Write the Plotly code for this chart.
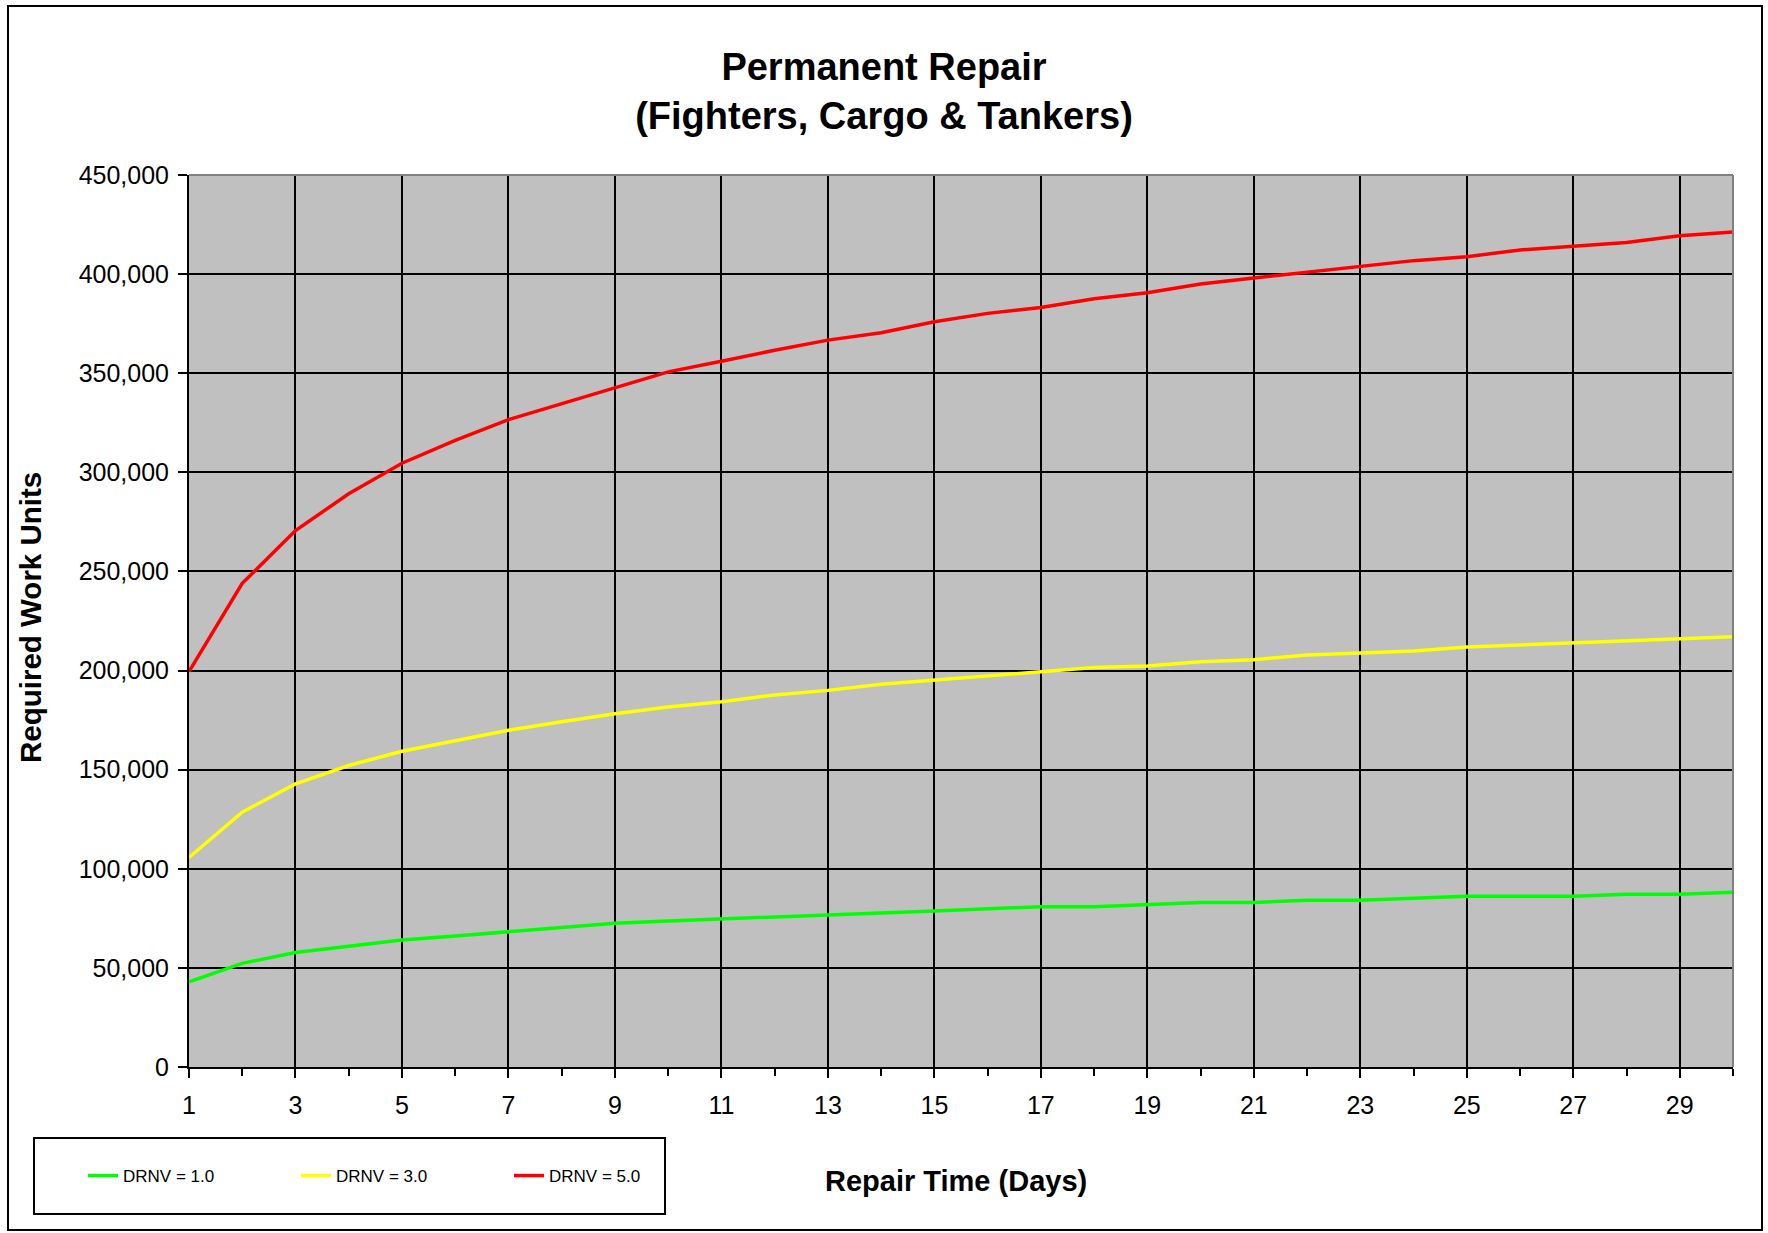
import plotly.graph_objects as go

# Repair time in days
days = list(range(1, 31))

# Required work units for each damage level
drnv_1 = [43000, 52300, 57800, 61000, 64100, 66100, 68300, 70300, 72500, 73700,
          74600, 75700, 76700, 77700, 78700, 79800, 80900, 80900, 81900, 83000,
          83000, 84100, 84100, 85100, 86100, 86100, 86100, 87100, 87100, 88200]
drnv_3 = [105700, 128600, 142800, 152100, 159300, 164400, 169900, 174200, 178200, 181600,
          184300, 187700, 190000, 193100, 195200, 197300, 199300, 201500, 202300, 204500,
          205500, 207900, 208900, 209900, 211900, 212900, 213900, 215300, 216100, 217100]
drnv_5 = [199500, 244000, 270600, 289200, 304600, 316100, 326600, 334700, 342400, 350700,
          356000, 361600, 366700, 370400, 376000, 380200, 383200, 387600, 390600, 395000,
          398000, 400800, 403800, 406800, 408800, 412200, 414100, 415900, 419300, 421300]

series_names = ["DRNV = 1.0", "DRNV = 3.0", "DRNV = 5.0"]
series_colors = ["#00FF00", "#FFFF00", "#FF0000"]

W, H = 1768, 1233
L, R, T, B = 189, 1733, 175, 1067  # plot area in pixels


def px_x(x):
    return (x - L) / (R - L)


def px_y(y):
    return (B - y) / (B - T)


FONT = "Liberation Sans, Arial, sans-serif"

fig = go.Figure()
for name, vals, col in zip(series_names, [drnv_1, drnv_3, drnv_5], series_colors):
    fig.add_trace(go.Scatter(x=days, y=vals, mode="lines", name=name,
                             line=dict(color=col, width=3.5)))

fig.update_layout(
    width=W, height=H,
    margin=dict(l=L, r=W - R, t=T, b=H - B),
    paper_bgcolor="white",
    plot_bgcolor="#C0C0C0",
    font=dict(family=FONT, color="black"),
    title=dict(text="<b>Permanent Repair<br>(Fighters, Cargo & Tankers)</b>",
               x=0.5, xref="container", xanchor="center",
               y=1 - 80 / H, yref="container", yanchor="middle",
               font=dict(size=38, family=FONT, color="black")),
    showlegend=True,
    legend=dict(orientation="h", x=px_x(83), xanchor="left",
                y=px_y(1176), yanchor="middle",
                font=dict(size=17, family=FONT, color="black"),
                bgcolor="rgba(0,0,0,0)", borderwidth=0,
                entrywidth=168, entrywidthmode="pixels", itemwidth=30),
)

fig.update_xaxes(
    range=[1, 30], tick0=1, dtick=2,
    showgrid=True, gridcolor="black", gridwidth=2,
    showline=True, linecolor="black", linewidth=2,
    ticks="outside", ticklen=9, tickwidth=2, tickcolor="black",
    ticklabelstandoff=6,
    tickfont=dict(size=25, family=FONT, color="black"),
    minor=dict(dtick=1, tick0=1, ticks="outside", ticklen=7, tickwidth=2,
               tickcolor="black", showgrid=False),
    zeroline=False, fixedrange=True,
)
fig.update_yaxes(
    range=[0, 450000], tick0=0, dtick=50000, tickformat=",",
    showgrid=True, gridcolor="black", gridwidth=2,
    showline=True, linecolor="black", linewidth=2,
    ticks="outside", ticklen=9, tickwidth=2, tickcolor="black",
    ticklabelstandoff=4,
    tickfont=dict(size=25, family=FONT, color="black"),
    zeroline=False, fixedrange=True,
)

# Axis titles
fig.add_annotation(text="<b>Required Work Units</b>", textangle=-90,
                   x=px_x(30), y=px_y(618), xref="paper", yref="paper",
                   xanchor="center", yanchor="middle",
                   showarrow=False, font=dict(size=29.5, family=FONT, color="black"))
fig.add_annotation(text="<b>Repair Time (Days)</b>",
                   x=px_x(956), y=px_y(1181), xref="paper", yref="paper",
                   xanchor="center", yanchor="middle",
                   showarrow=False, font=dict(size=29, family=FONT, color="black"))

# Gray frame on the top and right of the plot area
fig.add_shape(type="line", xref="paper", yref="paper", x0=0, x1=1, y0=1, y1=1,
              line=dict(color="#808080", width=2), layer="above")
fig.add_shape(type="line", xref="paper", yref="paper", x0=1, x1=1, y0=0, y1=1,
              line=dict(color="#808080", width=2), layer="above")

# Legend box
fig.add_shape(type="rect", xref="paper", yref="paper",
              x0=px_x(34), x1=px_x(665), y0=px_y(1214), y1=px_y(1138),
              line=dict(color="black", width=2), fillcolor="rgba(0,0,0,0)")

# Outer chart border
fig.add_shape(type="rect", xref="paper", yref="paper",
              x0=px_x(8), x1=px_x(1762), y0=px_y(1230), y1=px_y(6),
              line=dict(color="black", width=2), fillcolor="rgba(0,0,0,0)")

fig.write_html("out.html")
